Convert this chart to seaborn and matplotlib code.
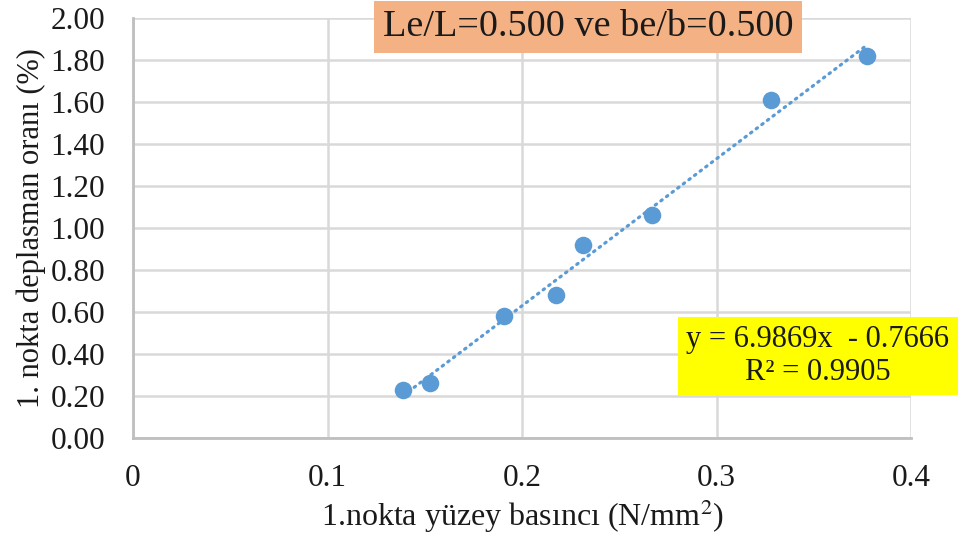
import numpy as np
import pandas as pd
import seaborn as sns
import matplotlib.pyplot as plt

# values
pressure = [0.1388, 0.1527, 0.1907, 0.2175, 0.2314, 0.2668, 0.3280, 0.3774]
displacement = [0.23, 0.26, 0.58, 0.68, 0.92, 1.06, 1.61, 1.82]
x_ticks = [0, 0.1, 0.2, 0.3, 0.4]
x_tick_labels = ["0", "0.1", "0.2", "0.3", "0.4"]
y_ticks = [0.0, 0.2, 0.4, 0.6, 0.8, 1.0, 1.2, 1.4, 1.6, 1.8, 2.0]

title_text = "Le/L=0.500 ve be/b=0.500"
eq_text = "y = 6.9869x  - 0.7666\nR\u00b2 = 0.9905"

sns.set_style("whitegrid")
plt.rcParams["font.family"] = ["Liberation Serif", "DejaVu Serif"]
plt.rcParams["mathtext.fontset"] = "stix"

blue = "#5B9BD5"
grid_c = "#D9D9D9"
txt_c = "#1a1a1a"

df = pd.DataFrame({"x": pressure, "y": displacement})

fig = plt.figure(figsize=(9.61, 5.46), dpi=100)
ax = fig.add_axes([0.1384, 0.1978, 0.948 - 0.1384, 0.967 - 0.1978])

sns.regplot(
    data=df, x="x", y="y", ax=ax, ci=None, truncate=True,
    scatter_kws={"s": 160, "color": blue, "alpha": 1, "linewidths": 0, "zorder": 3},
    line_kws={"color": blue, "linestyle": (0, (0.5, 1.7)), "linewidth": 2.3,
              "dash_capstyle": "round", "zorder": 2},
)

ax.set_xlim(0, 0.4)
ax.set_ylim(0, 2.0)
ax.set_xticks(x_ticks)
ax.set_xticklabels(x_tick_labels)
ax.set_yticks(y_ticks)
ax.set_yticklabels([f"{v:.2f}" for v in y_ticks])
ax.tick_params(axis="y", labelsize=22.5, length=0, pad=20, labelcolor=txt_c)
ax.tick_params(axis="x", labelsize=22.5, length=0, pad=19, labelcolor=txt_c)

ax.grid(True, color=grid_c, linewidth=1.8)
for side in ["top", "right"]:
    ax.spines[side].set_visible(False)
for side in ["left", "bottom"]:
    ax.spines[side].set_color("#BFBFBF")
    ax.spines[side].set_linewidth(2)

ax.set_xlabel("1.nokta yüzey basıncı (N/mm$^2$)", fontsize=23, labelpad=3, color=txt_c)
ax.set_ylabel("1. nokta deplasman oranı (%)", fontsize=22, labelpad=3, color=txt_c)

fig.text(588 / 961, 1 - 27 / 546, title_text, fontsize=27.5, ha="center", va="center",
         color=txt_c,
         bbox=dict(boxstyle="square,pad=0.22", facecolor="#F4B183", edgecolor="none"))
fig.text(818 / 961, 1 - 356 / 546, eq_text, fontsize=22, ha="center", va="center",
         linespacing=1.15, color=txt_c,
         bbox=dict(boxstyle="square,pad=0.27", facecolor="#FFFF00", edgecolor="none"))

fig.savefig("out.png", dpi=100)
